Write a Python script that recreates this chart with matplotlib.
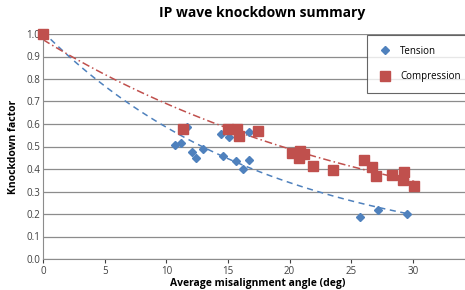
import numpy as np
import matplotlib
matplotlib.use("Agg")
import matplotlib.pyplot as plt

# values
tension_x = [0, 10.7, 11.2, 11.7, 12.1, 12.4, 13.0, 14.4, 14.6, 15.1, 15.65, 16.2, 16.7, 16.7, 25.7, 27.2, 29.5]
tension_y = [1.0, 0.505, 0.515, 0.587, 0.474, 0.45, 0.489, 0.557, 0.459, 0.541, 0.437, 0.40, 0.441, 0.563, 0.187, 0.218, 0.20]
compr_x = [0, 11.35, 15.0, 15.75, 15.9, 17.4, 20.2, 20.85, 20.8, 21.2, 21.9, 23.5, 26.05, 26.7, 27.0, 28.3, 29.3, 29.2, 30.1]
compr_y = [1.0, 0.578, 0.58, 0.578, 0.548, 0.567, 0.472, 0.48, 0.447, 0.465, 0.412, 0.394, 0.439, 0.408, 0.369, 0.373, 0.388, 0.35, 0.326]

# exponential trendlines y = a*exp(b*x)
tension_trend = [1.01, -0.0545]
compr_trend = [0.975, -0.0345]

BLUE = "#4F81BD"
RED = "#C0504D"
FONT = "Open Sans"

plt.rcParams["font.family"] = [FONT, "DejaVu Sans"]

fig = plt.figure(figsize=(4.65, 2.9), dpi=100)
ax = fig.add_axes([43 / 465, 31 / 290, (35 * 12.33) / 465, 225 / 290])

for xs, ys, (a, b), col, mk, ms, ls, lbl in [
        (tension_x, tension_y, tension_trend, BLUE, "D", 4.3, (0, (4, 3)), "Tension"),
        (compr_x, compr_y, compr_trend, RED, "s", 6.8, (0, (5, 2, 1, 2)), "Compression")]:
    xx = np.linspace(0, max(xs), 100)
    ax.plot(xx, a * np.exp(b * xx), color=col, ls=ls, lw=1.1, zorder=2)
    ax.plot(xs, ys, ls="none", marker=mk, ms=ms, color=col, mec=col,
            label=lbl, zorder=3, clip_on=False)

ax.set_xlim(0, 35)
ax.set_ylim(0, 1.0)
ax.set_xticks(np.arange(0, 31, 5))
ax.set_yticks(np.arange(0, 1.01, 0.1))
ax.set_yticklabels([f"{v:.1f}" for v in np.arange(0, 1.01, 0.1)])
ax.grid(axis="y", color="#8c8c8c", lw=0.9)
ax.set_axisbelow(True)
for s in ["top", "right"]:
    ax.spines[s].set_visible(False)
for s in ["left", "bottom"]:
    ax.spines[s].set_color("#8c8c8c")
ax.tick_params(axis="both", labelsize=7, colors="#404040", length=3,
               direction="out", pad=2)
ax.tick_params(axis="y", length=0)

ax.set_ylabel("Knockdown factor", fontsize=7.5, fontweight="bold", labelpad=5)
fig.text(258 / 465, 1 - 289 / 290, "Average misalignment angle (deg)",
         fontsize=7.5, fontweight="bold", ha="center", va="bottom")
fig.text(262 / 465, 1 - 13 / 290, "IP wave knockdown summary",
         fontsize=10, fontweight="bold", ha="center", va="center")

leg = ax.legend(loc="upper left", bbox_to_anchor=(367 / 465, 1 - 35 / 290),
                bbox_transform=fig.transFigure, fontsize=7, frameon=True,
                fancybox=False, borderpad=1.1, labelspacing=1.5,
                handletextpad=0.8, borderaxespad=0, handlelength=1.5)
leg.get_frame().set_edgecolor("#404040")
leg.get_frame().set_linewidth(0.8)

fig.savefig("out.png", dpi=100)
